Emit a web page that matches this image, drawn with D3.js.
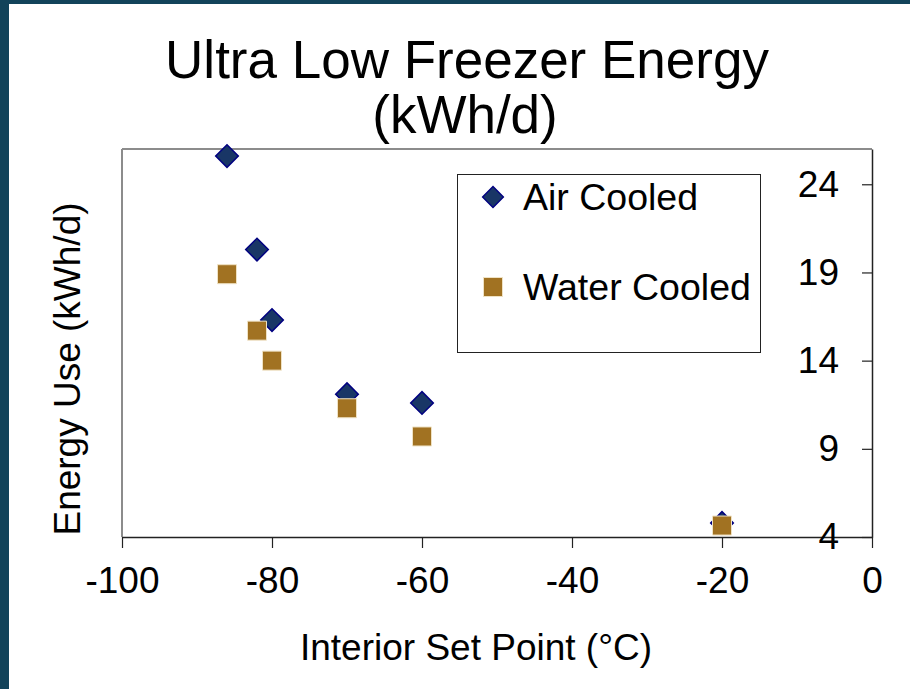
<!DOCTYPE html>
<html>
<head>
<meta charset="utf-8">
<script src="https://cdn.jsdelivr.net/npm/d3@7"></script>
<style>
  html, body { margin: 0; padding: 0; background: #ffffff; }
  svg { display: block; }
  text { font-family: "Liberation Sans", Arial, Helvetica, sans-serif; fill: #000; }
</style>
</head>
<body>
<svg id="chart" width="910" height="689"></svg>
<script>
// ---- data ----
const titleLines = ["Ultra Low Freezer Energy", "(kWh/d)"];
const xLabel = "Interior Set Point (°C)";
const yLabel = "Energy Use (kWh/d)";
const seriesNames = ["Air Cooled", "Water Cooled"];
const setPoints = [-86, -82, -80, -70, -60, -20];
const airCooled = [25.6, 20.3, 16.3, 12.1, 11.6, 4.8];
const waterCooled = [18.9, 15.7, 14.0, 11.3, 9.7, 4.65];
const xTicks = [-100, -80, -60, -40, -20, 0];
const yTicks = [4, 9, 14, 19, 24];
const xDomain = [-100, 0];
const yDomain = [4, 26];

// ---- layout ----
const W = 910, H = 689;
const plot = { left: 122, right: 872, top: 149, bottom: 537 };
const svg = d3.select("#chart");

// frame
svg.append("rect").attr("x", 0).attr("y", 0).attr("width", W).attr("height", H).attr("fill", "#ffffff");
svg.append("rect").attr("x", 0).attr("y", 0).attr("width", 9).attr("height", H).attr("fill", "#12435a");
svg.append("rect").attr("x", 0).attr("y", 0).attr("width", W).attr("height", 4).attr("fill", "#12435a");

const x = d3.scaleLinear().domain(xDomain).range([plot.left, plot.right]);
const y = d3.scaleLinear().domain(yDomain).range([plot.bottom, plot.top]);

// plot border (left + top gray)
svg.append("line").attr("x1", plot.left).attr("x2", plot.left).attr("y1", plot.top).attr("y2", plot.bottom)
  .attr("stroke", "#8c8c8c").attr("stroke-width", 2);
svg.append("line").attr("x1", plot.left).attr("x2", plot.right).attr("y1", plot.top).attr("y2", plot.top)
  .attr("stroke", "#8c8c8c").attr("stroke-width", 2);

// x axis
const xAxis = svg.append("g").attr("transform", `translate(0,${plot.bottom})`)
  .call(d3.axisBottom(x).tickValues(xTicks).tickSize(11).tickSizeOuter(0).tickPadding(19).tickFormat(d3.format("d")));
xAxis.select(".domain").attr("stroke", "#222").attr("stroke-width", 1.5);
xAxis.selectAll(".tick line").attr("stroke", "#222").attr("stroke-width", 1.2);
xAxis.selectAll("text").style("font-size", "37px").attr("fill", "#000")
  .style("font-family", '"Liberation Sans", Arial, sans-serif');
xAxis.selectAll("text").text(d => d3.format("d")(d).replace("−", "-"));

// y axis on the right, ticks pointing inward
const yAxis = svg.append("g").attr("transform", `translate(${plot.right},0)`)
  .call(d3.axisLeft(y).tickValues(yTicks).tickSize(10).tickSizeOuter(0).tickPadding(23));
yAxis.select(".domain").attr("stroke", "#222").attr("stroke-width", 1.5);
yAxis.selectAll(".tick line").attr("stroke", "#222").attr("stroke-width", 1.2);
yAxis.selectAll("text").style("font-size", "37px").attr("fill", "#000")
  .style("font-family", '"Liberation Sans", Arial, sans-serif');

// title
svg.append("text").attr("x", 467).attr("y", 78).attr("text-anchor", "middle")
  .style("font-size", "53px").text(titleLines[0]);
svg.append("text").attr("x", 465).attr("y", 133).attr("text-anchor", "middle")
  .style("font-size", "53px").text(titleLines[1]);

// axis titles
svg.append("text").attr("x", 476).attr("y", 660).attr("text-anchor", "middle")
  .style("font-size", "37px").text(xLabel);
svg.append("text").attr("transform", "translate(80,369) rotate(-90)").attr("text-anchor", "middle")
  .style("font-size", "37px").text(yLabel);

// markers
const diamond = d3.symbol().type(d3.symbolSquare).size(256);
const square = d3.symbol().type(d3.symbolSquare).size(361);
const airFill = "#193666", airStroke = "#000080";
const waterFill = "#a17222", waterStroke = "#efe2c4";

const airData = setPoints.map((t, i) => ({ t, v: airCooled[i] }));
const waterData = setPoints.map((t, i) => ({ t, v: waterCooled[i] }));

svg.append("g").selectAll("path").data(airData).join("path")
  .attr("d", diamond)
  .attr("transform", d => `translate(${x(d.t)},${y(d.v)}) rotate(45)`)
  .attr("fill", airFill).attr("stroke", airStroke).attr("stroke-width", 1.5);

svg.append("g").selectAll("path").data(waterData).join("path")
  .attr("d", square)
  .attr("transform", d => `translate(${x(d.t)},${y(d.v)})`)
  .attr("fill", waterFill).attr("stroke", waterStroke).attr("stroke-width", 1);

// legend
const lg = svg.append("g");
lg.append("rect").attr("x", 457.5).attr("y", 174.5).attr("width", 303).attr("height", 178)
  .attr("fill", "#fff").attr("stroke", "#222").attr("stroke-width", 1);
lg.append("path").attr("d", diamond).attr("transform", "translate(493,197) rotate(45) scale(0.92)")
  .attr("fill", airFill).attr("stroke", airStroke).attr("stroke-width", 1.5);
lg.append("path").attr("d", square).attr("transform", "translate(493,287)")
  .attr("fill", waterFill).attr("stroke", waterStroke).attr("stroke-width", 1);
lg.append("text").attr("x", 523).attr("y", 210).style("font-size", "37.5px").text(seriesNames[0]);
lg.append("text").attr("x", 523).attr("y", 300).style("font-size", "37.5px").text(seriesNames[1]);
</script>
</body>
</html>
